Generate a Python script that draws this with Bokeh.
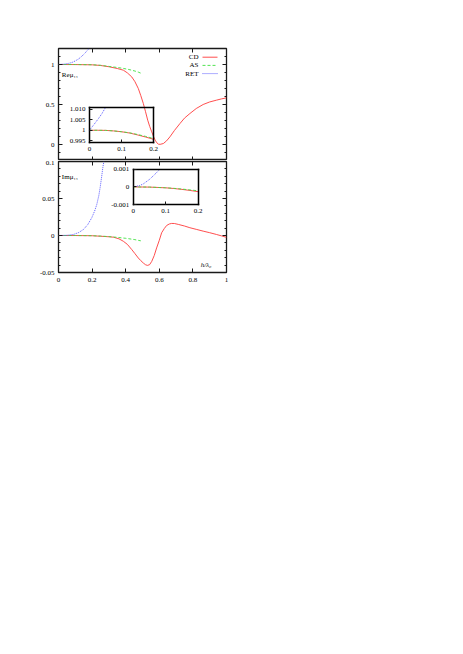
from bokeh.plotting import figure
from bokeh.models import Range1d, LinearAxis, FixedTicker
from bokeh.core.properties import value
from bokeh.layouts import column
from bokeh.embed import file_html
from bokeh.resources import INLINE

FONT = "Liberation Serif"
FS = "7px"
RED, GREEN, BLUE = "#ff3a3a", "#3ee03e", "#4a4aff"
INK = "#1a1a1a"
LW = 0.9
DASH_AS, DASH_RET = "3 2", "1 1"

# ---------------- data ----------------
# Top panel: Re mu_11 vs h/lambda0
re_cd_h = [0, 0.1, 0.2, 0.25, 0.3, 0.35, 0.386, 0.41, 0.436, 0.455, 0.475, 0.49, 0.505, 0.518,
           0.531, 0.543, 0.555, 0.565, 0.575, 0.585, 0.595, 0.605, 0.624, 0.643, 0.663, 0.69,
           0.723, 0.75, 0.782, 0.82, 0.861, 0.9, 0.94, 0.97, 1.0]
re_cd_v = [1.0, 0.9993, 0.996, 0.988, 0.972, 0.95, 0.929, 0.895, 0.845, 0.785, 0.70, 0.61, 0.512,
           0.41, 0.304, 0.225, 0.158, 0.105, 0.055, 0.022, 0.004, 0.002, 0.012, 0.045, 0.095,
           0.175, 0.262, 0.33, 0.387, 0.45, 0.50, 0.532, 0.554, 0.57, 0.583]
re_as_h = [0, 0.1, 0.2, 0.25, 0.3, 0.35, 0.386, 0.42, 0.45, 0.475, 0.495]
re_as_v = [1.0, 0.9995, 0.997, 0.99, 0.976, 0.963, 0.951, 0.937, 0.921, 0.905, 0.887]
re_ret_h = [0, 0.03, 0.06, 0.08, 0.1, 0.12, 0.14, 0.16, 0.175, 0.183]
re_ret_v = [1.0, 1.004, 1.014, 1.025, 1.045, 1.07, 1.105, 1.148, 1.185, 1.2]

# Top inset
ire_h = [0, 0.025, 0.05, 0.075, 0.1, 0.125, 0.15, 0.175, 0.2]
ire_cd = [1.0, 1.0, 0.99995, 0.9997, 0.9993, 0.9987, 0.9978, 0.9968, 0.9957]
ire_as = [1.0, 1.0, 0.99995, 0.9997, 0.9993, 0.9988, 0.9980, 0.9971, 0.9961]
ire_ret_h = [0, 0.0125, 0.028, 0.039, 0.049]
ire_ret_v = [1.0, 1.0024, 1.0055, 1.0079, 1.0105]

# Bottom panel: Im mu_11 vs h/lambda0
im_cd_h = [0, 0.1, 0.2, 0.25, 0.3, 0.327, 0.36, 0.386, 0.41, 0.436, 0.455, 0.475, 0.49, 0.505,
           0.518, 0.529, 0.542, 0.555, 0.57, 0.584, 0.6, 0.614, 0.63, 0.644, 0.66, 0.673, 0.69,
           0.713, 0.75, 0.782, 0.82, 0.861, 0.9, 0.94, 0.97, 1.0]
im_cd_v = [0, -0.00003, -0.0003, -0.001, -0.0017, -0.0023, -0.0045, -0.0078, -0.012, -0.019,
           -0.0245, -0.0304, -0.034, -0.0372, -0.0395, -0.0404, -0.0395, -0.035, -0.027, -0.0168,
           -0.0065, 0.0037, 0.0095, 0.0136, 0.0156, 0.0163, 0.0162, 0.015, 0.0128, 0.0105, 0.0083,
           0.0059, 0.0038, 0.0014, -0.0005, -0.0025]
im_as_h = [0, 0.1, 0.2, 0.25, 0.3, 0.35, 0.4, 0.45, 0.49]
im_as_v = [0, -0.00003, -0.0003, -0.0008, -0.0015, -0.0025, -0.0038, -0.0054, -0.0072]
im_ret_h = [0, 0.05, 0.089, 0.12, 0.149, 0.175, 0.198, 0.215, 0.228, 0.24, 0.248, 0.256, 0.264, 0.27]
im_ret_v = [0, 0.0003, 0.0014, 0.004, 0.0082, 0.015, 0.024, 0.033, 0.042, 0.054, 0.065, 0.078, 0.092, 0.1]

# Bottom inset
iim_h = [0, 0.05, 0.1, 0.125, 0.15, 0.175, 0.2]
iim_cd = [0, -0.00001, -0.00005, -0.00009, -0.00014, -0.0002, -0.00027]
iim_as = [0, -0.00001, -0.00005, -0.00008, -0.00012, -0.00017, -0.00022]
iim_ret_h = [0, 0.02, 0.031, 0.051, 0.072, 0.082]
iim_ret_v = [0, 0.00008, 0.00017, 0.00044, 0.00081, 0.001]

# ticks
x_ticks = [0, 0.2, 0.4, 0.6, 0.8, 1.0]
x_labels = {0: "0", 0.2: "0.2", 0.4: "0.4", 0.6: "0.6", 0.8: "0.8", 1.0: "1"}
re_ticks = [0, 0.5, 1.0]
re_minor = [-0.1, 0.1, 0.2, 0.3, 0.4, 0.6, 0.7, 0.8, 0.9, 1.1]
re_labels = {0: "0", 0.5: "0.5", 1.0: "1"}
im_ticks = [-0.05, 0, 0.05, 0.1]
im_minor = [-0.04, -0.03, -0.02, -0.01, 0.01, 0.02, 0.03, 0.04, 0.06, 0.07, 0.08, 0.09]
im_labels = {-0.05: "-0.05", 0: "0", 0.05: "0.05", 0.1: "0.1"}
in_x_ticks = [0, 0.1, 0.2]
in_x_labels = {0: "0", 0.1: "0.1", 0.2: "0.2"}
ire_ticks = [0.995, 1.0, 1.005, 1.01]
ire_labels = {0.995: "0.995", 1.0: "1", 1.005: "1.005", 1.01: "1.010"}
iim_ticks = [-0.001, 0, 0.001]
iim_labels = {-0.001: "-0.001", 0: "0", 0.001: "0.001"}

series_names = ["CD", "AS", "RET"]
series_colors = [RED, GREEN, BLUE]
series_dashes = ["solid", DASH_AS, DASH_RET]

# layout constants (pixels)
FRAME_W = 168
LEFT = 58


def make_fig(y0, y1, frame_h, top, bottom):
    p = figure(frame_width=FRAME_W, frame_height=frame_h,
               x_range=Range1d(0, 1), y_range=Range1d(y0, y1),
               output_backend="svg", toolbar_location=None,
               x_axis_location=None, y_axis_location=None,
               min_border_left=LEFT, min_border_right=12,
               min_border_top=top, min_border_bottom=bottom)
    p.grid.visible = False
    p.outline_line_color = INK
    p.outline_line_width = 1.3
    p.outline_line_alpha = 1.0
    p.background_fill_color = "white"
    p.border_fill_color = "white"
    return p


def tick_axis(p, side, ticks, minor, labels=None, loc=None, xr="default", yr="default",
              tin=4, mtin=2, bounds="auto", line=False):
    ax = LinearAxis(ticker=FixedTicker(ticks=ticks, minor_ticks=minor),
                    x_range_name=xr, y_range_name=yr, bounds=bounds,
                    major_tick_in=tin, major_tick_out=0, minor_tick_in=mtin, minor_tick_out=0,
                    major_tick_line_color=INK, minor_tick_line_color=INK,
                    major_tick_line_width=1, minor_tick_line_width=1,
                    major_label_text_font=FONT, major_label_text_font_size=FS,
                    major_label_text_color="black", major_label_standoff=4)
    if line:
        ax.axis_line_color = "black"
        ax.axis_line_width = 1.5
        ax.axis_line_cap = "square"
    else:
        ax.axis_line_color = None
    if labels is None:
        ax.major_label_text_color = None
    else:
        ax.major_label_overrides = labels
    if loc is not None:
        ax.fixed_location = loc
    p.add_layout(ax, side)
    return ax


def inset_range(b0, b1, m0, m1, i0, i1):
    k = (i1 - i0) / (b1 - b0)
    return Range1d(i0 - (b0 - m0) * k, i1 + (m1 - b1) * k)


def add_inset(p, box_x, box_y, main_y, iy, y_ticks, y_labels, cd, as_, ret_h, ret_v, h):
    p.extra_x_ranges["ix"] = inset_range(box_x[0], box_x[1], 0, 1, 0, 0.2)
    p.extra_y_ranges["iy"] = inset_range(box_y[0], box_y[1], main_y[0], main_y[1], iy[0], iy[1])
    kw = dict(x_range_name="ix", y_range_name="iy")
    p.line(h, cd, line_color=RED, line_width=LW, **kw)
    p.line(h, as_, line_color=GREEN, line_width=LW, line_dash=DASH_AS, **kw)
    p.line(ret_h, ret_v, line_color=BLUE, line_width=LW, line_dash=DASH_RET, **kw)
    tick_axis(p, "below", in_x_ticks, [], in_x_labels, loc=iy[0], xr="ix", yr="iy",
              tin=3, bounds=(0, 0.2), line=True)
    tick_axis(p, "left", y_ticks, [], y_labels, loc=0, xr="ix", yr="iy",
              tin=3, bounds=(iy[0], iy[1]), line=True)
    tick_axis(p, "above", [], [], None, loc=iy[1], xr="ix", yr="iy",
              tin=0, bounds=(0, 0.2), line=True)
    tick_axis(p, "right", [], [], None, loc=0.2, xr="ix", yr="iy",
              tin=0, bounds=(iy[0], iy[1]), line=True)


def add_text(p, x, y, txt, align="left", style="normal", **kw):
    p.text(x=[x], y=[y], text=[txt], text_font=value(FONT), text_font_size=FS,
           text_font_style=style, text_align=align, text_baseline="middle",
           text_color="black", **kw)


# ---------------- top panel ----------------
RE_Y = (-0.2, 1.2)
p1 = make_fig(RE_Y[0], RE_Y[1], 112, 48, 0)
p1.line(re_cd_h, re_cd_v, line_color=RED, line_width=LW)
p1.line(re_as_h, re_as_v, line_color=GREEN, line_width=LW, line_dash=DASH_AS)
p1.line(re_ret_h, re_ret_v, line_color=BLUE, line_width=LW, line_dash=DASH_RET)

tick_axis(p1, "left", re_ticks, re_minor, re_labels)
tick_axis(p1, "right", re_ticks, re_minor, None, loc=1.0)
tick_axis(p1, "below", x_ticks[1:-1], [], None, loc=RE_Y[0])
tick_axis(p1, "above", x_ticks[1:-1], [], None, loc=RE_Y[1])

add_inset(p1, (0.184, 0.566), (0.025, 0.4625), RE_Y, (0.9942, 1.0108),
          ire_ticks, ire_labels, ire_cd, ire_as, ire_ret_h, ire_ret_v, ire_h)

add_text(p1, 0.02, 0.866, "Reμ₁₁")

# legend (pixel space of the frame, measured from the frame's top-left corner)
p1.extra_x_ranges["lg"] = Range1d(0, FRAME_W)
p1.extra_y_ranges["lg"] = Range1d(112, 0)
for i, (name, col, dash) in enumerate(zip(series_names, series_colors, series_dashes)):
    row = 8.7 + 8.2 * i
    p1.line([144, 159], [row, row], line_color=col, line_width=LW, line_dash=dash,
            x_range_name="lg", y_range_name="lg")
    add_text(p1, 140, row, name, align="right", x_range_name="lg", y_range_name="lg")

# ---------------- bottom panel ----------------
IM_Y = (-0.05, 0.1)
p2 = make_fig(IM_Y[0], IM_Y[1], 111, 1, 20)
p2.line(im_cd_h, im_cd_v, line_color=RED, line_width=LW)
p2.line(im_as_h, im_as_v, line_color=GREEN, line_width=LW, line_dash=DASH_AS)
p2.line(im_ret_h, im_ret_v, line_color=BLUE, line_width=LW, line_dash=DASH_RET)

tick_axis(p2, "left", im_ticks, im_minor, im_labels)
tick_axis(p2, "right", im_ticks, im_minor, None, loc=1.0)
bx = tick_axis(p2, "below", x_ticks, [], x_labels)
bx.major_label_standoff = 5
tick_axis(p2, "above", x_ticks[1:-1], [], None, loc=IM_Y[1])

add_inset(p2, (0.445, 0.831), (0.0418, 0.0895), IM_Y, (-0.001, 0.001),
          iim_ticks, iim_labels, iim_cd, iim_as, iim_ret_h, iim_ret_v, iim_h)

add_text(p2, 0.02, 0.0794, "Imμ₁₁")
add_text(p2, 0.846, -0.0405, "h/λ₀", style="italic")

layout = column(p1, p2, spacing=0)
open("out.html", "w").write(file_html(layout, INLINE))
